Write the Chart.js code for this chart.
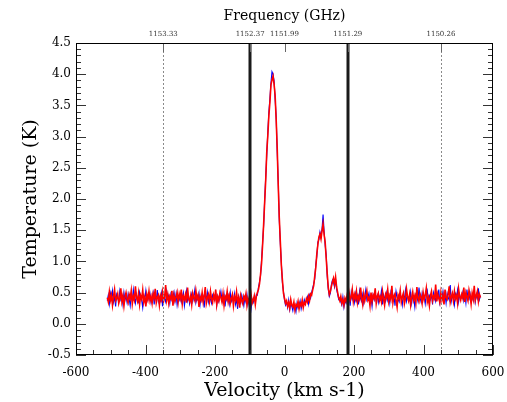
<!DOCTYPE html>
<html>
<head>
<meta charset="utf-8">
<script src="https://cdn.jsdelivr.net/npm/chart.js@4.4.1/dist/chart.umd.min.js"></script>
<style>
  html, body { margin: 0; padding: 0; background: #ffffff; }
  #c { display: block; }
</style>
</head>
<body>
<canvas id="c" width="507" height="402"></canvas>
<script>
// ---- data ----
const velocity = [
  -510,-507,-504,-501,-498,-495,-492,-489,-486,-483,
  -480,-477,-474,-471,-468,-465,-462,-459,-456,-453,
  -450,-447,-444,-441,-438,-435,-432,-429,-426,-423,
  -420,-417,-414,-411,-408,-405,-402,-399,-396,-393,
  -390,-387,-384,-381,-378,-375,-372,-369,-366,-363,
  -360,-357,-354,-351,-348,-345,-342,-339,-336,-333,
  -330,-327,-324,-321,-318,-315,-312,-309,-306,-303,
  -300,-297,-294,-291,-288,-285,-282,-279,-276,-273,
  -270,-267,-264,-261,-258,-255,-252,-249,-246,-243,
  -240,-237,-234,-231,-228,-225,-222,-219,-216,-213,
  -210,-207,-204,-201,-198,-195,-192,-189,-186,-183,
  -180,-177,-174,-171,-168,-165,-162,-159,-156,-153,
  -150,-147,-144,-141,-138,-135,-132,-129,-126,-123,
  -120,-117,-114,-111,-108,-105,-102,-99,-96,-93,
  -90,-87,-84,-81,-78,-75,-72,-69,-66,-63,
  -60,-57,-54,-51,-48,-45,-42,-39,-36,-33,
  -30,-27,-24,-21,-18,-15,-12,-9,-6,-3,
  0,3,6,9,12,15,18,21,24,27,
  30,33,36,39,42,45,48,51,54,57,
  60,63,66,69,72,75,78,81,84,87,
  90,93,96,99,102,105,108,111,114,117,
  120,123,126,129,132,135,138,141,144,147,
  150,153,156,159,162,165,168,171,174,177,
  180,183,186,189,192,195,198,201,204,207,
  210,213,216,219,222,225,228,231,234,237,
  240,243,246,249,252,255,258,261,264,267,
  270,273,276,279,282,285,288,291,294,297,
  300,303,306,309,312,315,318,321,324,327,
  330,333,336,339,342,345,348,351,354,357,
  360,363,366,369,372,375,378,381,384,387,
  390,393,396,399,402,405,408,411,414,417,
  420,423,426,429,432,435,438,441,444,447,
  450,453,456,459,462,465,468,471,474,477,
  480,483,486,489,492,495,498,501,504,507,
  510,513,516,519,522,525,528,531,534,537,
  540,543,546,549,552,555,558,561,564
];

const tempRed = [
  0.42,0.35,0.51,0.38,0.46,0.30,0.44,0.55,0.37,0.41,
  0.48,0.33,0.40,0.57,0.36,0.45,0.29,0.43,0.50,0.39,
  0.34,0.47,0.41,0.53,0.32,0.44,0.38,0.60,0.42,0.36,
  0.49,0.31,0.45,0.40,0.54,0.35,0.43,0.28,0.47,0.39,
  0.52,0.37,0.44,0.33,0.48,0.41,0.56,0.34,0.42,0.46,
  0.30,0.45,0.39,0.51,0.36,0.43,0.62,0.38,0.47,0.33,
  0.44,0.40,0.53,0.29,0.46,0.37,0.42,0.50,0.35,0.48,
  0.41,0.55,0.32,0.44,0.39,0.47,0.34,0.58,0.40,0.36,
  0.45,0.31,0.49,0.42,0.37,0.53,0.40,0.46,0.27,0.43,
  0.38,0.50,0.35,0.44,0.59,0.33,0.41,0.47,0.36,0.52,
  0.40,0.34,0.46,0.39,0.55,0.31,0.43,0.37,0.49,0.42,
  0.35,0.48,0.30,0.44,0.40,0.52,0.36,0.45,0.33,0.41,
  0.47,0.29,0.43,0.38,0.51,0.34,0.42,0.26,0.45,0.37,
  0.32,0.44,0.39,0.48,0.30,0.41,0.35,0.27,0.46,0.33,
  0.38,0.45,0.31,0.44,0.50,0.55,0.64,0.79,0.97,1.27,
  1.60,1.96,2.31,2.76,3.02,3.34,3.55,3.83,3.91,3.97,
  3.84,3.66,3.28,2.82,2.22,1.70,1.32,0.93,0.70,0.49,
  0.41,0.33,0.37,0.28,0.34,0.25,0.39,0.30,0.27,0.35,
  0.22,0.31,0.28,0.36,0.24,0.33,0.29,0.38,0.26,0.34,
  0.31,0.40,0.35,0.44,0.37,0.48,0.46,0.54,0.61,0.76,
  0.90,1.12,1.27,1.39,1.44,1.36,1.49,1.60,1.43,1.31,
  1.05,0.80,0.58,0.47,0.52,0.60,0.67,0.73,0.63,0.75,
  0.59,0.50,0.42,0.37,0.44,0.33,0.39,0.30,0.41,0.36,
  0.45,0.32,0.49,0.38,0.43,0.55,0.36,0.47,0.40,0.52,
  0.34,0.44,0.39,0.58,0.41,0.31,0.48,0.37,0.45,0.53,
  0.38,0.42,0.29,0.50,0.36,0.46,0.41,0.57,0.33,0.44,
  0.49,0.37,0.43,0.35,0.52,0.40,0.30,0.47,0.42,0.55,
  0.36,0.45,0.39,0.61,0.34,0.44,0.48,0.38,0.27,0.46,
  0.41,0.53,0.35,0.43,0.49,0.32,0.40,0.56,0.44,0.37,
  0.47,0.30,0.42,0.51,0.38,0.45,0.34,0.59,0.41,0.36,
  0.48,0.43,0.33,0.50,0.39,0.46,0.57,0.35,0.42,0.29,
  0.45,0.52,0.37,0.44,0.40,0.63,0.36,0.48,0.41,0.34,
  0.50,0.38,0.46,0.31,0.55,0.42,0.39,0.47,0.60,0.35,
  0.43,0.49,0.37,0.52,0.40,0.45,0.33,0.56,0.44,0.38,
  0.47,0.41,0.58,0.35,0.50,0.43,0.37,0.54,0.46,0.32,
  0.49,0.40,0.61,0.38,0.45,0.52,0.36,0.47,0.42
];

const tempBlue = [
  0.37,0.46,0.32,0.49,0.40,0.53,0.35,0.43,0.28,0.47,
  0.41,0.36,0.52,0.39,0.45,0.31,0.50,0.38,0.44,0.34,
  0.48,0.40,0.29,0.46,0.37,0.55,0.42,0.33,0.47,0.39,
  0.35,0.51,0.43,0.38,0.26,0.45,0.40,0.53,0.36,0.44,
  0.39,0.48,0.34,0.42,0.50,0.31,0.46,0.38,0.54,0.36,
  0.43,0.37,0.49,0.28,0.45,0.40,0.35,0.52,0.41,0.46,
  0.33,0.47,0.39,0.44,0.51,0.36,0.48,0.30,0.42,0.38,
  0.46,0.35,0.43,0.50,0.29,0.41,0.53,0.37,0.45,0.32,
  0.40,0.48,0.36,0.44,0.55,0.34,0.42,0.38,0.49,0.31,
  0.45,0.37,0.43,0.26,0.47,0.40,0.51,0.35,0.44,0.39,
  0.33,0.46,0.41,0.38,0.49,0.30,0.44,0.36,0.42,0.52,
  0.39,0.34,0.47,0.28,0.43,0.37,0.45,0.32,0.50,0.36,
  0.41,0.35,0.48,0.31,0.40,0.24,0.44,0.37,0.33,0.46,
  0.38,0.29,0.42,0.35,0.47,0.31,0.40,0.44,0.25,0.39,
  0.34,0.41,0.36,0.47,0.46,0.58,0.67,0.77,1.02,1.30,
  1.58,1.99,2.36,2.71,3.08,3.39,3.61,3.86,4.04,4.00,
  3.90,3.60,3.32,2.76,2.27,1.66,1.28,0.97,0.66,0.52,
  0.38,0.30,0.35,0.26,0.38,0.23,0.32,0.28,0.21,0.31,
  0.27,0.19,0.33,0.25,0.30,0.37,0.24,0.32,0.28,0.39,
  0.34,0.36,0.43,0.32,0.46,0.41,0.50,0.57,0.64,0.72,
  0.95,1.08,1.31,1.35,1.47,1.40,1.52,1.75,1.48,1.26,
  1.10,0.76,0.55,0.44,0.49,0.63,0.70,0.66,0.59,0.71,
  0.55,0.47,0.39,0.41,0.35,0.30,0.43,0.27,0.38,0.33,
  0.41,0.36,0.46,0.29,0.50,0.39,0.44,0.34,0.48,0.37,
  0.45,0.31,0.52,0.40,0.36,0.47,0.33,0.44,0.55,0.38,
  0.42,0.49,0.35,0.43,0.28,0.46,0.39,0.51,0.37,0.45,
  0.34,0.44,0.40,0.53,0.31,0.47,0.42,0.36,0.49,0.38,
  0.46,0.33,0.50,0.41,0.37,0.45,0.29,0.52,0.43,0.39,
  0.35,0.48,0.42,0.30,0.46,0.39,0.54,0.36,0.44,0.41,
  0.38,0.51,0.33,0.45,0.40,0.27,0.47,0.43,0.36,0.58,
  0.42,0.35,0.49,0.40,0.44,0.32,0.46,0.53,0.37,0.45,
  0.39,0.47,0.31,0.50,0.43,0.36,0.48,0.41,0.55,0.34,
  0.44,0.40,0.52,0.37,0.46,0.33,0.49,0.42,0.38,0.62,
  0.36,0.45,0.41,0.30,0.48,0.43,0.54,0.35,0.47,0.40,
  0.42,0.50,0.37,0.46,0.33,0.55,0.41,0.39,0.48,0.36,
  0.44,0.38,0.51,0.35,0.47,0.41,0.57,0.39,0.45
];

// top axis: frequency labels and the velocities where they fall
const freqLabels   = ['1153.33', '1152.37', '1151.99', '1151.29', '1150.26'];
const freqVelocity = [-348.7, -98.9, 0, 182.2, 450.2];
// vertical marker lines (velocities)
const thickLines  = [-98.9, 182.2];
const dottedLines = [-348.7, 450.2];

const SERIF = '"DejaVu Serif", "Liberation Serif", serif';

const framePlugin = {
  id: 'frame',
  afterDatasetsDraw(chart) {
    const {ctx, chartArea: a, scales} = chart;
    const x = scales.x, y = scales.y;
    ctx.save();
    ctx.strokeStyle = '#8a8a8a';
    ctx.lineWidth = 1;
    ctx.setLineDash([2, 2]);
    dottedLines.forEach(v => {
      const px = Math.round(x.getPixelForValue(v)) + 0.5;
      ctx.beginPath(); ctx.moveTo(px, a.top); ctx.lineTo(px, a.bottom); ctx.stroke();
    });
    ctx.setLineDash([]);
    ctx.strokeStyle = '#1a1a1a';
    ctx.lineWidth = 3;
    thickLines.forEach(v => {
      const px = Math.round(x.getPixelForValue(v));
      ctx.beginPath(); ctx.moveTo(px, a.top); ctx.lineTo(px, a.bottom); ctx.stroke();
    });
    ctx.strokeStyle = '#666';
    ctx.lineWidth = 1;
    freqVelocity.forEach(v => {
      const px = Math.round(x.getPixelForValue(v)) + 0.5;
      ctx.beginPath(); ctx.moveTo(px, a.top); ctx.lineTo(px, a.top + 9); ctx.stroke();
    });
    ctx.strokeStyle = '#333';
    for (let v = x.min; v <= x.max + 1e-6; v += 50) {
      const px = Math.round(x.getPixelForValue(v)) + 0.5;
      const len = (Math.abs(v % 200) < 1e-6) ? 10 : 5;
      ctx.beginPath(); ctx.moveTo(px, a.bottom); ctx.lineTo(px, a.bottom - len); ctx.stroke();
    }
    for (let k = 0; k <= Math.round((y.max - y.min) / 0.1); k++) {
      const v = y.min + k * 0.1;
      const py = Math.round(y.getPixelForValue(v)) + 0.5;
      const len = (k % 5 === 0) ? 10 : 5;
      ctx.beginPath(); ctx.moveTo(a.left, py); ctx.lineTo(a.left + len, py); ctx.stroke();
      ctx.beginPath(); ctx.moveTo(a.right, py); ctx.lineTo(a.right - len, py); ctx.stroke();
    }
    ctx.strokeStyle = '#000';
    ctx.lineWidth = 1;
    ctx.strokeRect(Math.round(a.left) + 0.5, Math.round(a.top) + 0.5,
                   Math.round(a.right - a.left) - 1, Math.round(a.bottom - a.top) - 1);
    ctx.restore();
  }
};

new Chart(document.getElementById('c'), {
  type: 'line',
  data: {
    datasets: [
      {
        label: 'red',
        data: velocity.map((v, i) => ({x: v, y: tempRed[i]})),
        borderColor: '#ff0000',
        borderWidth: 1.6,
        pointRadius: 0,
        tension: 0,
        fill: false
      },
      {
        label: 'blue',
        data: velocity.map((v, i) => ({x: v, y: tempBlue[i]})),
        borderColor: '#0000ff',
        borderWidth: 1.1,
        pointRadius: 0,
        tension: 0,
        fill: false
      }
    ]
  },
  options: {
    responsive: false,
    animation: false,
    devicePixelRatio: 1,
    layout: { padding: { left: 0, right: 14, top: 0, bottom: 0 } },
    plugins: { legend: { display: false }, tooltip: { enabled: false }, title: { display: false } },
    scales: {
      x: {
        type: 'linear',
        position: 'bottom',
        min: -600, max: 600,
        grid: { display: false, drawTicks: false },
        border: { display: false },
        ticks: {
          stepSize: 200, color: '#000', maxRotation: 0, padding: 11,
          font: { family: SERIF, size: 12 }
        },
        title: {
          display: true, text: 'Velocity (km s-1)', color: '#000',
          font: { family: SERIF, size: 19 }, padding: { top: 0, bottom: 0 }
        },
        afterFit(s) { s.height = 47; s.paddingLeft = 0; s.paddingRight = 0; }
      },
      xTop: {
        type: 'linear',
        position: 'top',
        min: -600, max: 600,
        grid: { display: false, drawTicks: false },
        border: { display: false },
        afterBuildTicks(s) { s.ticks = freqVelocity.map(v => ({value: v})); },
        ticks: {
          autoSkip: false, color: '#333', maxRotation: 0, padding: 5,
          font: { family: SERIF, size: 7 },
          callback(value, index) { return freqLabels[index]; }
        },
        title: {
          display: true, text: 'Frequency (GHz)', color: '#000',
          font: { family: SERIF, size: 14 }, padding: { top: 8, bottom: 0 }
        },
        afterFit(s) { s.height = 43; s.paddingLeft = 0; s.paddingRight = 0; }
      },
      y: {
        type: 'linear',
        position: 'left',
        min: -0.5, max: 4.5,
        grid: { display: false, drawTicks: false },
        border: { display: false },
        ticks: {
          stepSize: 0.5, color: '#000', padding: 5,
          font: { family: SERIF, size: 12 },
          callback(v) { return Number(v).toFixed(1); }
        },
        title: {
          display: true, text: 'Temperature (K)', color: '#000',
          font: { family: SERIF, size: 19 }, padding: { top: 20, bottom: 0 }
        },
        afterFit(s) { s.width = 76; s.paddingTop = 0; s.paddingBottom = 0; }
      }
    }
  },
  plugins: [framePlugin]
});
</script>
</body>
</html>
